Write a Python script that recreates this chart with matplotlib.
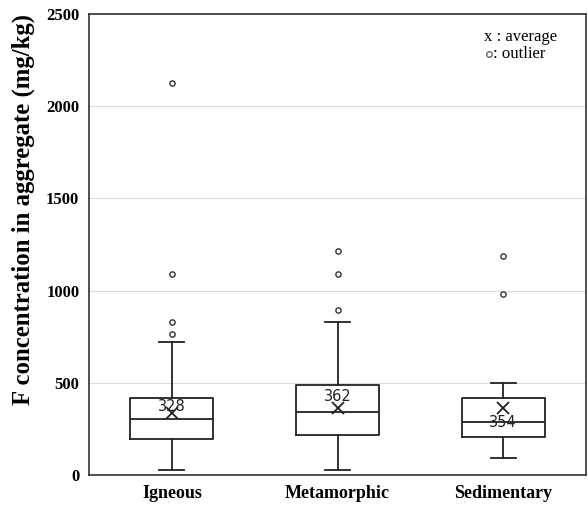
import matplotlib
matplotlib.use("Agg")
import matplotlib.pyplot as plt

categories = ["Igneous", "Metamorphic", "Sedimentary"]
whislo = [27, 27, 92]
q1 = [195, 219, 206]
med = [302, 340, 289]
q3 = [416, 486, 416]
whishi = [723, 831, 500]
mean_pos = [335, 362, 362]
mean_labels = ["328", "362", "354"]
outliers = [[763, 831, 1090, 2126], [895, 1090, 1215], [980, 1190]]
yticks = [0, 500, 1000, 1500, 2000, 2500]

fig = plt.figure(figsize=(5.88, 5.08), dpi=100)
ax = fig.add_axes([0.1514, 0.065, 0.8452, 0.9074])

stats = []
for i, c in enumerate(categories):
    stats.append(dict(label=c, whislo=whislo[i], q1=q1[i], med=med[i], q3=q3[i],
                      whishi=whishi[i], mean=mean_pos[i], fliers=outliers[i]))

lw = 1.3
ax.bxp(stats, positions=[1, 2, 3], widths=0.5, showmeans=False, showfliers=True,
       boxprops=dict(color="#222222", linewidth=lw),
       medianprops=dict(color="#222222", linewidth=lw),
       whiskerprops=dict(color="#222222", linewidth=lw),
       capprops=dict(color="#222222", linewidth=lw),
       capwidths=0.15,
       flierprops=dict(marker="o", markersize=3.8, markerfacecolor="white",
                       markeredgecolor="#333333", markeredgewidth=1.0))

ax.plot([1, 2, 3], mean_pos, linestyle="none", marker="x", markersize=8,
        markeredgewidth=1.3, color="#222222", zorder=5)

offsets = [5, 8.6, -10]
for i, lab in enumerate(mean_labels):
    ax.annotate(lab, (i + 1, mean_pos[i]), xytext=(0, offsets[i]), textcoords="offset points",
                ha="center", va="center", fontsize=10.5, color="#222222", family="DejaVu Sans")

ax.set_xlim(0.5, 3.5)
ax.set_ylim(0, 2500)
ax.set_yticks(yticks)
ax.set_yticklabels([str(t) for t in yticks], family="Liberation Serif", fontweight="bold", fontsize=12)
ax.set_xticks([1, 2, 3])
ax.set_xticklabels(categories, family="Liberation Serif", fontweight="bold", fontsize=13)
ax.tick_params(axis="y", length=0, pad=7)
ax.tick_params(axis="x", length=0, pad=7)
ax.grid(axis="y", color="#dddddd", linewidth=0.8)
ax.set_axisbelow(True)
for s in ax.spines.values():
    s.set_color("#333333")
    s.set_linewidth(1.2)
ax.set_ylabel("F concentration in aggregate (mg/kg)", family="Liberation Serif",
              fontweight="bold", fontsize=17.8)
ax.yaxis.set_label_coords(-0.108, 0.575)

ax.text(0.795, 0.950, "x : average", transform=ax.transAxes, family="Liberation Serif",
        fontsize=12, va="center", ha="left")
ax.plot([0.804], [0.913], transform=ax.transAxes, marker="o", markersize=4,
        markerfacecolor="white", markeredgecolor="#666666", linestyle="none", clip_on=False)
ax.text(0.812, 0.913, ": outlier", transform=ax.transAxes, family="Liberation Serif",
        fontsize=12, va="center", ha="left")

fig.savefig("out.png", dpi=100)
